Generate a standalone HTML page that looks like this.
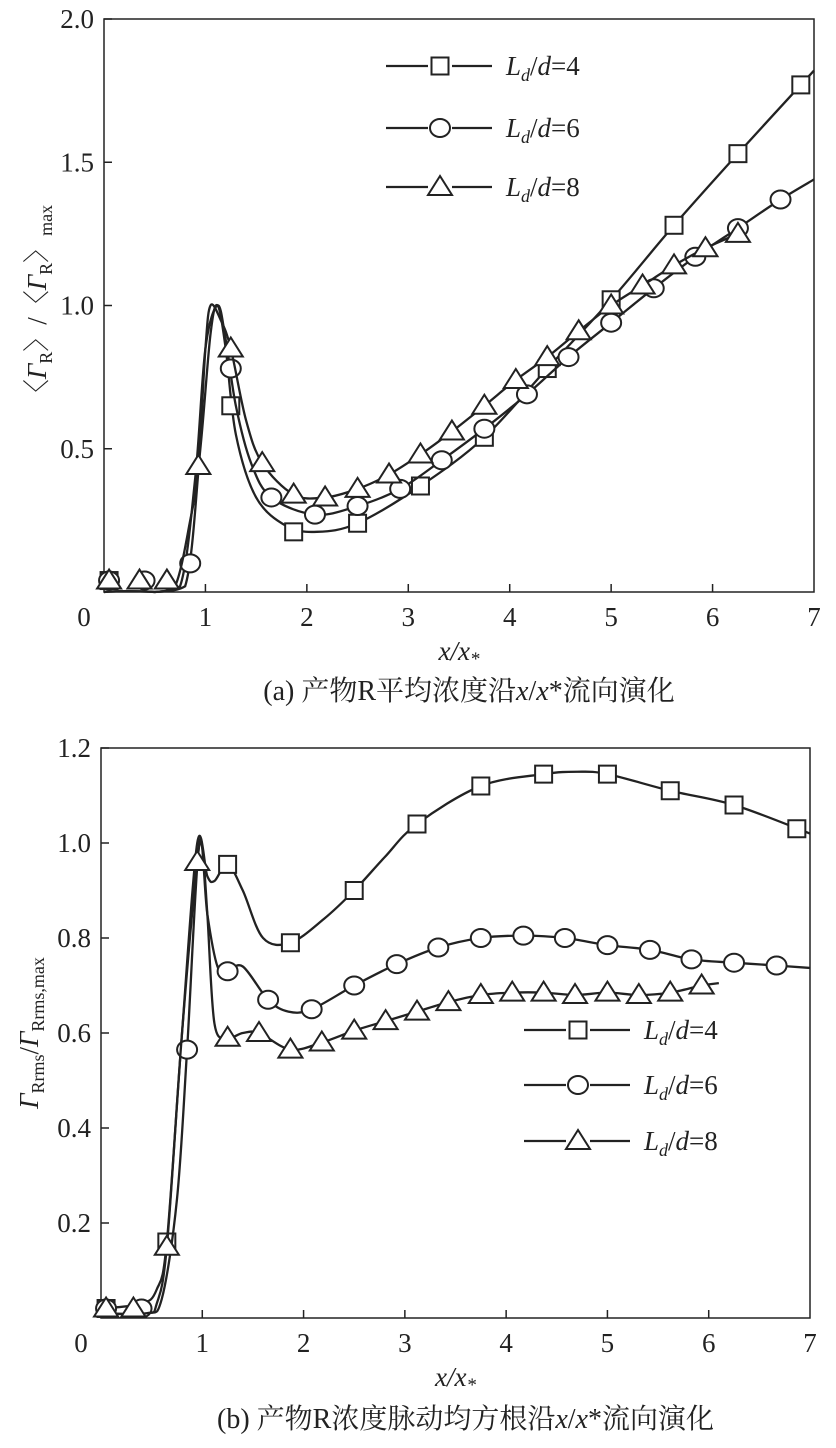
<!DOCTYPE html>
<html><head><meta charset="utf-8"><style>
body{margin:0;background:#fff;width:836px;height:1443px;overflow:hidden}
svg text{font-family:"Liberation Serif","Noto Serif CJK SC",serif;fill:#222}
</style></head><body>
<svg id="s" width="836" height="1443" xmlns="http://www.w3.org/2000/svg" font-family="Liberation Serif, Noto Serif CJK SC, serif"></svg>
<script>
// ---- chart (a) data ----
const aX4=[0,0.5,0.8,0.95,1.05,1.12,1.2,1.3,1.5,1.8,2.1,2.5,3.12,3.75,4.37,5,5.62,6.25,7];
const aY4=[0,0,0.02,0.5,0.9,1.0,0.85,0.55,0.33,0.23,0.21,0.24,0.37,0.54,0.78,1.02,1.28,1.53,1.82];
const aMX4=[0.05,1.25,1.87,2.5,3.12,3.75,4.37,5,5.62,6.25,6.87];
const aMY4=[0.04,0.65,0.21,0.24,0.37,0.54,0.78,1.02,1.28,1.53,1.77];
const aX6=[0,0.5,0.75,0.9,1.0,1.12,1.2,1.3,1.45,1.65,2.08,2.5,2.92,3.33,3.75,4.17,4.58,5,5.42,5.83,6.25,6.67,7];
const aY6=[0,0,0.02,0.4,0.85,1.0,0.88,0.65,0.45,0.33,0.27,0.3,0.36,0.46,0.57,0.69,0.82,0.94,1.06,1.17,1.27,1.37,1.44];
const aMX6=[0.05,0.4,0.85,1.25,1.65,2.08,2.5,2.92,3.33,3.75,4.17,4.58,5,5.42,5.83,6.25,6.67];
const aMY6=[0.04,0.04,0.1,0.78,0.33,0.27,0.3,0.36,0.46,0.57,0.69,0.82,0.94,1.06,1.17,1.27,1.37];
const aX8=[0,0.5,0.7,0.85,0.93,1.0,1.05,1.15,1.25,1.4,1.56,1.87,2.18,2.5,2.81,3.12,3.43,3.75,4.06,4.37,4.68,5,5.31,5.62,5.93,6.25];
const aY8=[0,0,0.02,0.25,0.44,0.85,1.0,0.95,0.85,0.6,0.45,0.34,0.33,0.36,0.41,0.48,0.56,0.65,0.74,0.82,0.91,1.0,1.07,1.14,1.2,1.25];
const aMX8=[0.05,0.35,0.62,0.93,1.25,1.56,1.87,2.18,2.5,2.81,3.12,3.43,3.75,4.06,4.37,4.68,5,5.31,5.62,5.93,6.25];
const aMY8=[0.04,0.04,0.04,0.44,0.85,0.45,0.34,0.33,0.36,0.41,0.48,0.56,0.65,0.74,0.82,0.91,1.0,1.07,1.14,1.2,1.25];
const aYTicks=["0.5","1.0","1.5","2.0"];
const aYTickVals=[0.5,1.0,1.5,2.0];
const xTicks=["0","1","2","3","4","5","6","7"];
// ---- chart (b) data ----
const bX4=[0,0.4,0.55,0.65,0.8,0.95,1.05,1.12,1.25,1.4,1.6,1.87,2.2,2.5,2.8,3.12,3.75,4.37,4.7,5,5.62,6.25,7];
const bY4=[0.02,0.03,0.06,0.16,0.6,1.0,0.93,0.92,0.955,0.9,0.8,0.79,0.84,0.9,0.97,1.04,1.12,1.145,1.15,1.145,1.11,1.08,1.02];
const bMX4=[0.05,0.65,1.25,1.87,2.5,3.12,3.75,4.37,5,5.62,6.25,6.87];
const bMY4=[0.02,0.16,0.955,0.79,0.9,1.04,1.12,1.145,1.145,1.11,1.08,1.03];
const bX6=[0,0.45,0.6,0.75,0.85,0.97,1.05,1.15,1.25,1.4,1.65,1.85,2.08,2.5,2.92,3.33,3.75,4.17,4.58,5,5.42,5.83,6.25,6.67,7];
const bY6=[0.01,0.01,0.04,0.25,0.565,1.0,0.85,0.74,0.73,0.74,0.67,0.645,0.65,0.7,0.745,0.78,0.8,0.805,0.8,0.785,0.775,0.755,0.748,0.742,0.737];
const bMX6=[0.05,0.4,0.85,1.25,1.65,2.08,2.5,2.92,3.33,3.75,4.17,4.58,5,5.42,5.83,6.25,6.67];
const bMY6=[0.02,0.02,0.565,0.73,0.67,0.65,0.7,0.745,0.78,0.8,0.805,0.8,0.785,0.775,0.755,0.748,0.742];
const bX8=[0,0.45,0.55,0.65,0.8,0.95,1.0,1.05,1.12,1.25,1.4,1.56,1.87,2.18,2.5,2.81,3.12,3.43,3.75,4.06,4.37,4.68,5,5.31,5.62,5.93,6.1];
const bY8=[0.01,0.01,0.03,0.15,0.6,0.96,0.99,0.85,0.62,0.59,0.6,0.6,0.565,0.58,0.605,0.625,0.645,0.665,0.68,0.685,0.685,0.68,0.685,0.68,0.685,0.7,0.705];
const bMX8=[0.05,0.32,0.65,0.95,1.25,1.56,1.87,2.18,2.5,2.81,3.12,3.43,3.75,4.06,4.37,4.68,5,5.31,5.62,5.93];
const bMY8=[0.02,0.02,0.15,0.96,0.59,0.6,0.565,0.58,0.605,0.625,0.645,0.665,0.68,0.685,0.685,0.68,0.685,0.68,0.685,0.7];
const bYTicks=["0.2","0.4","0.6","0.8","1.0","1.2"];
const bYTickVals=[0.2,0.4,0.6,0.8,1.0,1.2];

const NS="http://www.w3.org/2000/svg";
const S=document.getElementById('s');
function mk(tag,at,parent){const e=document.createElementNS(NS,tag);for(const k in at)e.setAttribute(k,at[k]);(parent||S).appendChild(e);return e;}
function smooth(pts,ymaxPix){const cl=v=>Math.min(v,ymaxPix);let d=`M${pts[0][0]},${pts[0][1]}`;for(let i=0;i<pts.length-1;i++){const p0=pts[Math.max(0,i-1)],p1=pts[i],p2=pts[i+1],p3=pts[Math.min(pts.length-1,i+2)];const c1=[p1[0]+(p2[0]-p0[0])/6,cl(p1[1]+(p2[1]-p0[1])/6)],c2=[p2[0]-(p3[0]-p1[0])/6,cl(p2[1]-(p3[1]-p1[1])/6)];d+=`C${c1[0]},${c1[1]} ${c2[0]},${c2[1]} ${p2[0]},${p2[1]}`;}return d;}
function marker(type,cx,cy,g){let e;
 if(type==='sq'){e=mk('rect',{x:cx-8.5,y:cy-8.5,width:17,height:17,fill:'#fff',stroke:'#222','stroke-width':2},g);}
 else if(type==='ci'){e=mk('ellipse',{cx:cx,cy:cy,rx:10,ry:9,fill:'#fff',stroke:'#222','stroke-width':2},g);}
 else {e=mk('polygon',{points:`${cx},${cy-11} ${cx-12},${cy+8} ${cx+12},${cy+8}`,fill:'#fff',stroke:'#222','stroke-width':2},g);}
 return e;}
function chart(o){
 const g=mk('g',{});
 const sx=v=>o.x0+v*(o.x1-o.x0)/7, sy=v=>o.yb-(v-o.ymin)*(o.yb-o.yt)/(o.ymax-o.ymin);
 const fr=mk('rect',{x:o.x0,y:o.yt,width:o.x1-o.x0,height:o.yb-o.yt,fill:'none',stroke:'#222','stroke-width':1.5},g);
 
 xTicks.forEach((t,i)=>{const x=sx(i);if(i>0&&i<7)mk('line',{x1:x,x2:x,y1:o.yb,y2:o.yb-8,stroke:'#222','stroke-width':1.5},g);
  const tx=mk('text',{x:x-(i==0?20:0),y:o.yb+34,'text-anchor':'middle','font-size':27},g);tx.textContent=t;
  });
 o.yt_lab.forEach((t,i)=>{const y=sy(o.yt_val[i]);mk('line',{x1:o.x0,x2:o.x0+8,y1:y,y2:y,stroke:'#222','stroke-width':1.5},g);
  const tx=mk('text',{x:o.x0-10,y:y+9,'text-anchor':'end','font-size':27},g);tx.textContent=t;
  });
 o.series.forEach(s=>{const sg=mk('g',{},g);
  const p=mk('path',{d:smooth(s.lx.map((v,i)=>[sx(v),sy(s.ly[i])]),o.yb-1),fill:'none',stroke:'#222','stroke-width':2.3},sg);
  
  s.mx.forEach((v,i)=>{const m=marker(s.t,sx(v),sy(s.my[i]),sg);});});
 o.legend.forEach((L,i)=>{const lg=mk('g',{},g);
  const y=L.y;mk('line',{x1:L.x-54,x2:L.x+52,y1:y,y2:y,stroke:'#222','stroke-width':2.3},lg);
  mk('rect',{x:L.x-12,y:y-12,width:24,height:24,fill:'#fff'},lg);marker(L.t,L.x,y,lg);
  const tx=mk('text',{x:L.x+66,y:y+9,'font-size':27,'font-style':'italic'},lg);
  tx.innerHTML=`L<tspan font-size="18" dy="6">d</tspan><tspan dy="-6" font-style="normal">/</tspan>d<tspan font-style="normal">=${L.v}</tspan>`;});
 const xt=mk('text',{x:(o.x0+o.x1)/2,y:o.yb+68,'text-anchor':'middle','font-size':27,'font-style':'italic'},g);
 xt.innerHTML='x/x<tspan font-size="19" dy="5">*</tspan>';
 const cap=mk('text',{x:(o.x0+o.x1)/2+10,y:o.capY,'text-anchor':'middle','font-size':28},g);cap.innerHTML=o.cap;
 
 const yt=mk('text',{transform:`translate(${o.ytx},${(o.yt+o.yb)/2}) rotate(-90)`,'text-anchor':'middle','font-size':27},g);yt.innerHTML=o.ytitle;
 
}
chart({name:'chart-a-mean-concentration',x0:104,x1:814,yt:19,yb:592,ymin:0,ymax:2,yt_lab:aYTicks,yt_val:aYTickVals,
 series:[{name:'series-ld4',t:'sq',lx:aX4,ly:aY4,mx:aMX4,my:aMY4},{name:'series-ld6',t:'ci',lx:aX6,ly:aY6,mx:aMX6,my:aMY6},{name:'series-ld8',t:'tr',lx:aX8,ly:aY8,mx:aMX8,my:aMY8}],
 legend:[{x:440,y:66,t:'sq',v:4},{x:440,y:128,t:'ci',v:6},{x:440,y:187,t:'tr',v:8}],
 capY:700,cap:'(a) 产物R平均浓度沿<tspan font-style="italic">x</tspan>/<tspan font-style="italic">x</tspan>*流向演化',
 ytx:46,ytitle:'〈<tspan font-style="italic">Γ</tspan><tspan font-size="18" dy="6">R</tspan><tspan dy="-6">〉/〈</tspan><tspan font-style="italic">Γ</tspan><tspan font-size="18" dy="6">R</tspan><tspan dy="-6">〉</tspan><tspan font-size="18" dy="6">max</tspan>'});
chart({name:'chart-b-rms-concentration',x0:101,x1:810,yt:748,yb:1318,ymin:0,ymax:1.2,yt_lab:bYTicks,yt_val:bYTickVals,
 series:[{name:'series-ld4',t:'sq',lx:bX4,ly:bY4,mx:bMX4,my:bMY4},{name:'series-ld6',t:'ci',lx:bX6,ly:bY6,mx:bMX6,my:bMY6},{name:'series-ld8',t:'tr',lx:bX8,ly:bY8,mx:bMX8,my:bMY8}],
 legend:[{x:578,y:1030,t:'sq',v:4},{x:578,y:1085,t:'ci',v:6},{x:578,y:1141,t:'tr',v:8}],
 capY:1428,cap:'(b) 产物R浓度脉动均方根沿<tspan font-style="italic">x</tspan>/<tspan font-style="italic">x</tspan>*流向演化',
 ytx:38,ytitle:'<tspan font-style="italic">Γ</tspan><tspan font-size="18" dy="6">Rrms</tspan><tspan dy="-6">/</tspan><tspan font-style="italic">Γ</tspan><tspan font-size="18" dy="6">Rrms,max</tspan>'});
</script>
</body></html>
